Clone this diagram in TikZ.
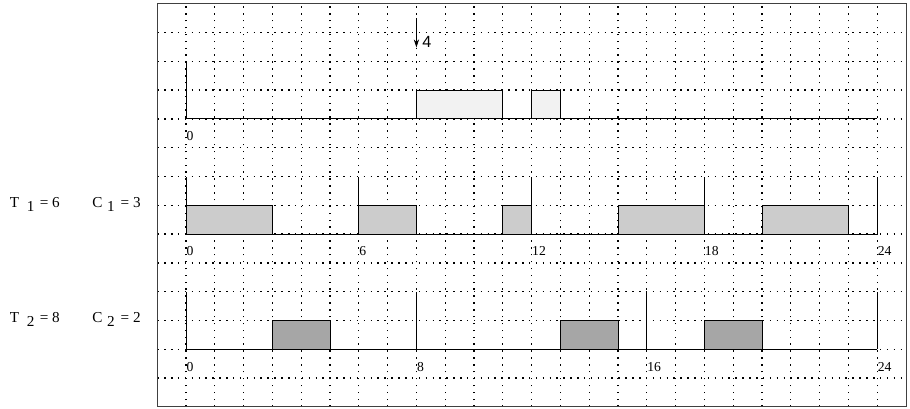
\documentclass[tikz,border=0pt]{standalone}
\usepackage{fontspec}
\setmainfont{Liberation Serif}
\newfontfamily\releasefont{Liberation Sans}
\usetikzlibrary{arrows.meta}

\begin{document}
\begin{tikzpicture}[
    gridline/.style={line width=1.3pt, dash pattern=on 1.5pt off 5.3pt, black},
    frame/.style={draw=black!75, line width=0.9pt},
    timeline/.style={line width=0.9pt},
    job/.style={draw, line width=0.9pt},
    aperiodic/.style={job, fill=black!5},
    taskone/.style={job, fill=black!20},
    tasktwo/.style={job, fill=black!35},
    tick/.style={anchor=west, inner sep=0.4pt, font=\fontsize{13.5}{14}\selectfont},
    param/.style={anchor=base west, inner sep=0pt, font=\fontsize{15}{16}\selectfont},
    arrow/.style={-{Stealth[length=2.8mm, width=1.8mm]}, line width=0.7pt}
]
\useasboundingbox (-6.46,-0.07) rectangle (25.14,14.13);

% Grid and frame
\foreach \t in {0,...,24} \draw[gridline] (\t,0) -- (\t,14);
\foreach \y in {1,...,13} \draw[gridline] (-1,\y) -- (25,\y);
\draw[frame] (-1,0) rectangle (25,14);

% Row 1: aperiodic server
\draw[timeline] (0,12) -- (0,10) -- (24,10);
\draw[aperiodic] (8,10) rectangle (11,11);
\draw[aperiodic] (12,10) rectangle (13,11);
\node[tick] (a0) at (0,9.4) {0};
\coordinate (reltop) at (8,13.5);
\coordinate (reltip) at (8,12.48);
\draw[arrow] (reltop) -- (reltip);
\node[anchor=south west, inner sep=0pt, font=\releasefont\fontsize{16}{16}\selectfont] (relnum) at (8.2,12.48) {4};

% Row 2: task 1
\draw[timeline] (0,6) -- (24,6);
\foreach \t in {0,6,12,18,24} {
  \draw[timeline] (\t,6) -- (\t,8);
  \node[tick] (p\t) at (\t,5.4) {\t};
}
\draw[taskone] (0,6) rectangle (3,7);
\draw[taskone] (6,6) rectangle (8,7);
\draw[taskone] (11,6) rectangle (12,7);
\draw[taskone] (15,6) rectangle (18,7);
\draw[taskone] (20,6) rectangle (23,7);
\node[param] (Tone) at (-6.12,6.94) {T\hspace{0.5em}\raisebox{-4.5pt}{1}\hspace{0.35em}= 6};
\node[param] (Cone) at (-3.26,6.94) {C\hspace{0.3em}\raisebox{-4.5pt}{1}\hspace{0.4em}= 3};

% Row 3: task 2
\draw[timeline] (0,2) -- (24,2);
\foreach \t in {0,8,16,24} {
  \draw[timeline] (\t,2) -- (\t,4);
  \node[tick] (q\t) at (\t,1.4) {\t};
}
\draw[tasktwo] (3,2) rectangle (5,3);
\draw[tasktwo] (13,2) rectangle (15,3);
\draw[tasktwo] (18,2) rectangle (20,3);
\node[param] (Ttwo) at (-6.12,2.94) {T\hspace{0.5em}\raisebox{-4.5pt}{2}\hspace{0.35em}= 8};
\node[param] (Ctwo) at (-3.26,2.94) {C\hspace{0.3em}\raisebox{-4.5pt}{2}\hspace{0.4em}= 2};

\end{tikzpicture}
\end{document}
